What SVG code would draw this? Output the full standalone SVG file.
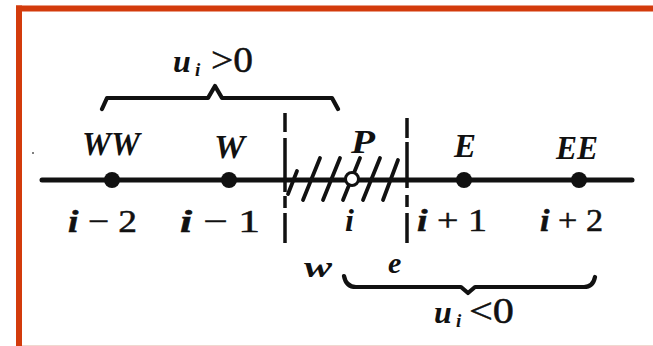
<svg xmlns="http://www.w3.org/2000/svg" width="653" height="346" viewBox="0 0 653 346">
<style>
.lbl{font-family:"Liberation Serif","Times New Roman",serif;font-style:italic;font-weight:bold;fill:#111}
.num{font-family:"Liberation Serif","Times New Roman",serif;fill:#111;stroke:#111;stroke-width:0.5}
.it{font-style:italic;font-weight:bold}
.ln{stroke:#111;fill:none;stroke-linecap:round;stroke-linejoin:round}
.dot{fill:#111}
</style>
<rect x="0" y="0" width="653" height="346" fill="#fff"/>
<g id="frame">
<rect x="16" y="5.5" width="637" height="6" fill="#d33b0c"/>
<rect x="16" y="5.5" width="6" height="340.5" fill="#d33b0c"/>
<rect x="22" y="345" width="631" height="1" fill="#f0d8d0"/>
</g>
<g id="connectors">
<line class="ln" x1="42" y1="180" x2="632" y2="180" stroke-width="5"/>
<line x1="285" y1="113" x2="285" y2="243" stroke="#111" stroke-width="3.5" stroke-dasharray="19,6,54,4,12,5,30"/>
<line x1="407" y1="118" x2="407" y2="243" stroke="#111" stroke-width="3.5" stroke-dasharray="20,4,46,7,12,6,30"/>
<g id="hatch" class="ln" stroke-width="3.8">
<line x1="288" y1="194" x2="297" y2="171"/>
<line x1="303" y1="200" x2="320" y2="158"/>
<line x1="323" y1="200" x2="340" y2="158"/>
<line x1="343" y1="200" x2="360" y2="158"/>
<line x1="363" y1="200" x2="380" y2="158"/>
<line x1="383" y1="200" x2="398" y2="160"/>
</g>
<path id="brace-top" class="ln" stroke-width="4.2" d="M102,109 L107,98 L208,98 L215,86 L222,98 L332,98 L338,109"/>
<path id="brace-bottom" class="ln" stroke-width="4.2" d="M344,276 Q346,287 356,287 L461,287 L468,293 L475,287 L584,287 Q593,287 595,277"/>
</g>
<circle cx="33" cy="153" r="1" fill="#555"/>
<g id="node-WW">
<circle class="dot" cx="112" cy="180" r="8"/>
<text class="lbl" x="82" y="155" font-size="34" textLength="58" lengthAdjust="spacingAndGlyphs">WW</text>
<text class="num" x="68" y="232" font-size="32" textLength="69" lengthAdjust="spacingAndGlyphs"><tspan class="it">i</tspan> − 2</text>
</g>
<g id="node-W">
<circle class="dot" cx="229" cy="180" r="8"/>
<text class="lbl" x="214" y="158" font-size="34" textLength="31" lengthAdjust="spacingAndGlyphs">W</text>
<text class="num" x="180" y="232" font-size="32" textLength="80" lengthAdjust="spacingAndGlyphs"><tspan class="it">i</tspan> − 1</text>
</g>
<g id="node-P">
<circle cx="352" cy="179" r="6.5" fill="#fff" stroke="#111" stroke-width="3"/>
<text class="lbl" x="351" y="153" font-size="33" textLength="24" lengthAdjust="spacingAndGlyphs">P</text>
<text class="lbl" x="345" y="231" font-size="32">i</text>
</g>
<g id="node-E">
<circle class="dot" cx="464" cy="180" r="8"/>
<text class="lbl" x="454" y="157" font-size="33" textLength="22" lengthAdjust="spacingAndGlyphs">E</text>
<text class="num" x="417" y="231" font-size="32" textLength="70" lengthAdjust="spacingAndGlyphs"><tspan class="it">i</tspan> + 1</text>
</g>
<g id="node-EE">
<circle class="dot" cx="579" cy="180" r="8"/>
<text class="lbl" x="556" y="159" font-size="33" textLength="42" lengthAdjust="spacingAndGlyphs">EE</text>
<text class="num" x="540" y="231" font-size="32" textLength="63" lengthAdjust="spacingAndGlyphs"><tspan class="it">i</tspan> + 2</text>
</g>
<g id="face-labels">
<text class="lbl" x="304" y="277" font-size="30" textLength="28" lengthAdjust="spacingAndGlyphs">w</text>
<text class="lbl" x="388" y="273" font-size="30">e</text>
</g>
<g id="label-upos">
<text class="lbl" x="173" y="72" font-size="32">u</text>
<text class="lbl" x="195" y="76" font-size="19">i</text>
<text class="num" x="211" y="72" font-size="36" textLength="42" lengthAdjust="spacingAndGlyphs">&gt;0</text>
</g>
<g id="label-uneg">
<text class="lbl" x="434" y="323" font-size="32">u</text>
<text class="lbl" x="456" y="327" font-size="19">i</text>
<text class="num" x="469" y="323" font-size="36" textLength="45" lengthAdjust="spacingAndGlyphs">&lt;0</text>
</g>
</svg>
